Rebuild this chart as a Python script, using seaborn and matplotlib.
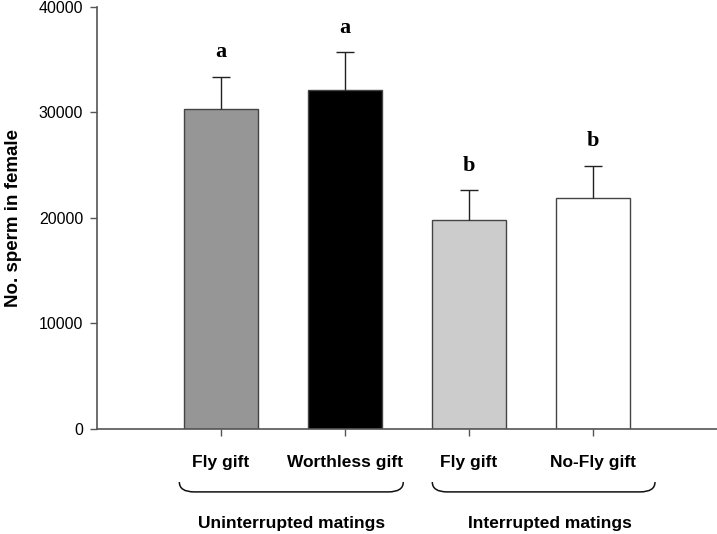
import numpy as np
import pandas as pd
import seaborn as sns
import matplotlib.pyplot as plt
from matplotlib.path import Path
from matplotlib.patches import PathPatch

# data
treatments = ["Fly gift", "Worthless gift", "Fly gift ", "No-Fly gift"]
tick_labels = ["Fly gift", "Worthless gift", "Fly gift", "No-Fly gift"]
sperm_mean = [30300, 32150, 19800, 21850]
sperm_se = [3100, 3600, 2850, 3120]
letters = ["a", "a", "b", "b"]
groups = ["Uninterrupted matings", "Interrupted matings"]
bar_colors = ["#969696", "#000000", "#cccccc", "#ffffff"]

df = pd.DataFrame({"treatment": treatments, "sperm": sperm_mean})

sns.set_style("ticks")
plt.rcParams["font.family"] = ["Liberation Sans", "DejaVu Sans"]
plt.rcParams["text.color"] = "black"
plt.rcParams["xtick.labelcolor"] = "black"
plt.rcParams["ytick.labelcolor"] = "black"
plt.rcParams["axes.labelcolor"] = "black"

fig = plt.figure(figsize=(7.17, 5.34), dpi=100)
ax = fig.add_axes([0.1353, 0.1966, 0.8647, 0.7904])

sns.barplot(data=df, x="treatment", y="sperm", hue="treatment",
            palette=bar_colors, legend=False, width=0.6,
            edgecolor="#444444", linewidth=1.0, ax=ax)

x = np.arange(len(treatments))
eb = ax.errorbar(x, sperm_mean, yerr=[np.zeros(4), sperm_se], fmt="none",
                 ecolor="#222222", elinewidth=1.0, capsize=6.5, capthick=1.0)
# keep only the upper caps
for cl in eb[1]:
    if np.allclose(cl.get_ydata(), sperm_mean):
        cl.set_visible(False)

for xi, m, s, let in zip(x, sperm_mean, sperm_se, letters):
    ax.text(xi, m + s + 2300, let, ha="center", va="center",
            fontsize=16, fontweight="bold", family="Liberation Serif")

ax.set_xlim(-1, 4)
ax.set_ylim(0, 40000)
ax.set_yticks([0, 10000, 20000, 30000, 40000])
ax.set_xticks(x)
ax.set_xticklabels(tick_labels, fontweight="bold", fontsize=12.5)
ax.tick_params(axis="x", length=5, width=1, color="#555555", pad=14)
ax.tick_params(axis="y", length=5, width=1, color="#555555", labelsize=11.5, pad=5)
ax.set_xlabel("")
ax.set_ylabel("No. sperm in female", fontweight="bold", fontsize=13.5, labelpad=12)
for sp in ["top", "right"]:
    ax.spines[sp].set_visible(False)
for sp in ["left", "bottom"]:
    ax.spines[sp].set_color("#555555")
    ax.spines[sp].set_linewidth(1.2)

# braces under the tick labels
def brace(x0, x1, y_top, y_bot):
    r = 0.12
    verts = [(x0, y_top), (x0, y_bot), (x0 + r, y_bot),
             (x1 - r, y_bot), (x1, y_bot), (x1, y_top)]
    codes = [Path.MOVETO, Path.CURVE3, Path.CURVE3,
             Path.LINETO, Path.CURVE3, Path.CURVE3]
    p = PathPatch(Path(verts, codes), fill=False, lw=1.1, ec="#111111",
                  transform=ax.get_xaxis_transform(), clip_on=False)
    ax.add_patch(p)

brace(-0.336, 1.47, -0.1256, -0.149)
brace(1.704, 3.50, -0.1256, -0.149)

ax.text(0.57, -0.223, groups[0], transform=ax.get_xaxis_transform(),
        ha="center", va="center", fontsize=12.5, fontweight="bold")
ax.text(2.65, -0.223, groups[1], transform=ax.get_xaxis_transform(),
        ha="center", va="center", fontsize=12.5, fontweight="bold")

fig.savefig("out.png", dpi=100)
